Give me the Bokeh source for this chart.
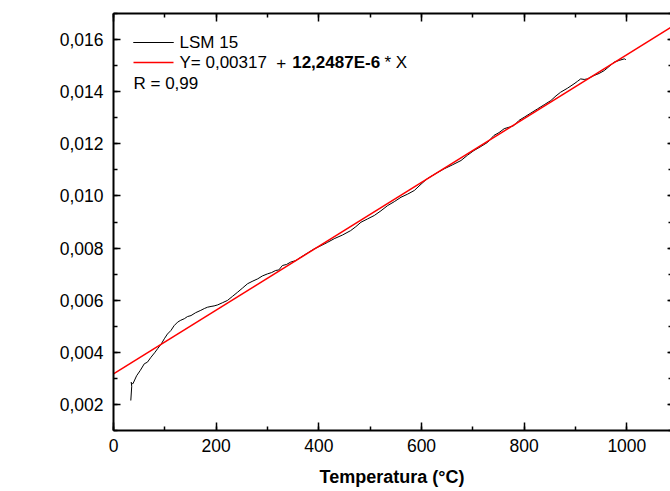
import math
from bokeh.plotting import figure
from bokeh.models import (LinearAxis, SingleIntervalTicker, CustomJSTickFormatter,
                          Label, PolyAnnotation, Range1d)
from bokeh.embed import file_html
from bokeh.resources import INLINE

# ---- data ----
temp = [33.7, 35.5, 34.5, 37.0, 38.5, 45, 52, 60, 66, 73, 80, 86, 93, 99, 105, 112,
        118, 125, 131, 138, 144, 151, 160, 170, 177, 183, 190, 196, 203, 212, 222,
        232, 242, 251, 261, 270, 281, 290, 300, 308, 316, 322, 329, 337, 345, 355,
        365, 378, 391, 404, 417, 430, 446, 462, 472, 482, 495, 508, 521, 534, 547,
        560, 573, 586, 599, 611, 627, 644, 660, 677, 690, 702, 716, 729, 741, 751,
        761, 771, 780, 790, 800, 813, 826, 839, 852, 862, 871, 884, 897, 904, 910,
        917, 923, 930, 936, 946, 956, 965, 975, 985, 995, 998]
dl = [0.00215, 0.00270, 0.00285, 0.00278, 0.00282, 0.00310, 0.00330, 0.00356, 0.00362,
      0.00381, 0.00398, 0.00414, 0.00432, 0.00452, 0.00470, 0.00484, 0.00502, 0.00516,
      0.00523, 0.00529, 0.00537, 0.00541, 0.00552, 0.00561, 0.00568, 0.00573, 0.00576,
      0.00578, 0.00582, 0.00590, 0.00599, 0.00615, 0.00631, 0.00646, 0.00663, 0.00672,
      0.00682, 0.00693, 0.00701, 0.00706, 0.00714, 0.00716, 0.00733, 0.00737, 0.00746,
      0.00752, 0.00765, 0.00781, 0.00797, 0.00809, 0.00822, 0.00836, 0.00850, 0.00867,
      0.00882, 0.00899, 0.00912, 0.00925, 0.00943, 0.00963, 0.00978, 0.00995, 0.01007,
      0.01021, 0.01045, 0.01066, 0.01085, 0.01104, 0.01119, 0.01136, 0.01157, 0.01174,
      0.01190, 0.01206, 0.01232, 0.01243, 0.01258, 0.01264, 0.01270, 0.01290, 0.01302,
      0.01318, 0.01334, 0.01350, 0.01366, 0.01384, 0.01398, 0.01413, 0.01430, 0.01440,
      0.01449, 0.01447, 0.01449, 0.01456, 0.01462, 0.01470, 0.01481, 0.01496, 0.01513,
      0.01520, 0.01526, 0.01523]

fit_x = [0, 1100]
fit_y = [0.00317, 0.01664]

series_label = "LSM 15"
eq_part_1 = "Y= 0,00317"
eq_plus = "+"
eq_bold = "12,2487E-6"
eq_part_2 = "* X"
r_text = "R = 0,99"
x_title = "Temperatura (°C)"
y_title = "ΔL / L"
y_title_sub = "0"

FONT = "Liberation Sans"

p = figure(width=670, height=491, output_backend="svg", toolbar_location=None,
           x_range=Range1d(0, 1085), y_range=Range1d(0.001, 0.017),
           min_border_left=113, min_border_right=0, min_border_top=13, min_border_bottom=61)
p.xaxis.visible = False
p.yaxis.visible = False
p.grid.visible = False
p.outline_line_color = None
p.background_fill_color = "white"
p.border_fill_color = "white"

xt = SingleIntervalTicker(interval=200, num_minor_ticks=2)
yt = SingleIntervalTicker(interval=0.002, num_minor_ticks=2)

def style(ax, labels=True):
    ax.axis_line_color = "black"
    ax.axis_line_width = 2
    ax.major_tick_line_color = "black"
    ax.minor_tick_line_color = "black"
    ax.major_tick_line_width = 1.5
    ax.minor_tick_line_width = 1.5
    ax.major_tick_out = 0
    ax.minor_tick_out = 0
    ax.major_tick_in = 8
    ax.minor_tick_in = 4
    ax.major_label_text_font = FONT
    if labels:
        ax.major_label_text_color = "black"
        ax.major_label_text_font_size = "17.5px"
    else:
        ax.major_label_text_color = None
        ax.major_label_text_font_size = "1px"
        ax.major_label_standoff = 0

bottom = LinearAxis(ticker=xt, formatter=CustomJSTickFormatter(code="return tick.toFixed(0);"))
style(bottom)
bottom.major_label_standoff = 8
bottom.axis_label = x_title
bottom.axis_label_text_font = FONT
bottom.axis_label_text_font_style = "bold"
bottom.axis_label_text_font_size = "18px"
bottom.axis_label_text_color = "black"
bottom.axis_label_standoff = 12
p.add_layout(bottom, "below")

top = LinearAxis(ticker=xt)
style(top, labels=False)
p.add_layout(top, "above")

left = LinearAxis(ticker=yt, formatter=CustomJSTickFormatter(code="return tick.toFixed(3).replace('.', ',');"))
style(left)
left.major_tick_in = 7
left.major_label_standoff = 10
p.add_layout(left, "left")

right = LinearAxis(ticker=yt)
style(right, labels=False)
right.axis_line_color = None
right.major_tick_in = 3
right.minor_tick_in = 2
p.add_layout(right, "right")

p.line(temp, dl, line_color="black", line_width=1)
p.line(fit_x, fit_y, line_color="red", line_width=1.5)

# ---- legend (frame-relative screen units) ----
def seg(x0, x1, y, color, w):
    p.add_layout(PolyAnnotation(xs=[x0, x1, x0], ys=[y, y, y], xs_units="screen", ys_units="screen",
                                fill_color=None, fill_alpha=0, line_color=color, line_alpha=1.0,
                                line_width=w))

seg(20, 60, 388, "black", 1)
seg(20, 60, 368, "red", 1.5)

def txt(x, y, t, bold=False, size="17px", angle=0, align="left"):
    p.add_layout(Label(x=x, y=y, x_units="screen", y_units="screen", text=t,
                       text_font=FONT, text_font_size=size, text_color="black",
                       text_font_style="bold" if bold else "normal",
                       text_baseline="middle", text_align=align, angle=angle))

txt(66, 388, series_label)
txt(66, 368, eq_part_1)
txt(162.7, 368, eq_plus)
txt(178.7, 368, eq_bold, bold=True)
txt(271, 368, eq_part_2)
txt(20, 347, r_text)

txt(-87, 204, y_title, bold=True, size="18px", angle=math.pi / 2, align="center")
txt(-80.5, 235, y_title_sub, bold=True, size="12px", angle=math.pi / 2, align="center")

open("out.html", "w").write(file_html(p, INLINE))
